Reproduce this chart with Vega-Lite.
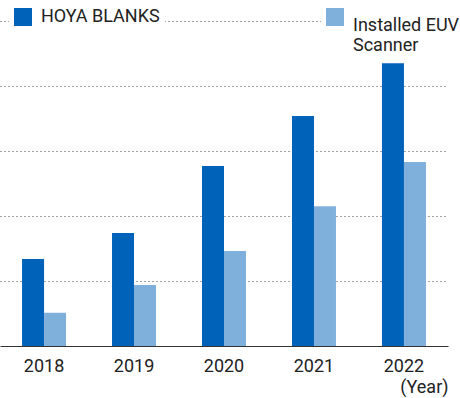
{
  "$schema": "https://vega.github.io/schema/vega-lite/v6.json",
  "width": 448,
  "height": 326,
  "autosize": {"type": "none"},
  "padding": {"left": 0, "top": 20, "right": 12, "bottom": 52},
  "config": {"font": "Roboto", "view": {"stroke": null}},
  "data": {"values": [
    {"year": "2018", "series": "HOYA BLANKS", "value": 1.34},
    {"year": "2018", "series": "Installed EUV Scanner", "value": 0.51},
    {"year": "2019", "series": "HOYA BLANKS", "value": 1.74},
    {"year": "2019", "series": "Installed EUV Scanner", "value": 0.94},
    {"year": "2020", "series": "HOYA BLANKS", "value": 2.77},
    {"year": "2020", "series": "Installed EUV Scanner", "value": 1.46},
    {"year": "2021", "series": "HOYA BLANKS", "value": 3.54},
    {"year": "2021", "series": "Installed EUV Scanner", "value": 2.15},
    {"year": "2022", "series": "HOYA BLANKS", "value": 4.35},
    {"year": "2022", "series": "Installed EUV Scanner", "value": 2.83}
  ]},
  "encoding": {
    "x": {
      "field": "year", "type": "nominal",
      "scale": {"paddingInner": 0.511, "paddingOuter": 0.245},
      "axis": {
        "title": "(Year)", "labelAngle": 0, "ticks": false, "domainColor": "#333", "domainWidth": 1,
        "labelFontSize": 18, "labelColor": "#222", "labelPadding": 11,
        "titleAnchor": "end", "titleFontWeight": "normal", "titleFontSize": 18, "titleColor": "#222", "titlePadding": 3
      }
    },
    "xOffset": {"field": "series", "scale": {"domain": ["HOYA BLANKS", "Installed EUV Scanner"]}},
    "y": {
      "field": "value", "type": "quantitative",
      "scale": {"domain": [0, 5.0154], "nice": false},
      "axis": {"title": null, "labels": false, "ticks": false, "domain": false, "values": [1, 2, 3, 4, 5], "gridDash": [1, 3], "gridColor": "#444", "gridWidth": 1}
    }
  },
  "layer": [
    {
      "transform": [{"filter": "datum.series === 'HOYA BLANKS'"}],
      "mark": "bar",
      "encoding": {
        "color": {
          "field": "series", "type": "nominal",
          "scale": {"range": ["#0062B8"]},
          "legend": {"title": null, "orient": "none", "legendX": 9, "legendY": -17, "padding": 5, "fillColor": "white",
            "symbolType": "square", "symbolSize": 324, "symbolStrokeWidth": 0, "labelFontSize": 18, "labelColor": "#222", "labelOffset": 9,
            "labelExpr": "datum.label + '\u2002\u2005'"}
        }
      }
    },
    {
      "transform": [{"filter": "datum.series === 'Installed EUV Scanner'"}],
      "mark": "bar",
      "encoding": {
        "color": {
          "field": "series", "type": "nominal",
          "scale": {"range": ["#7FB0DC"]},
          "legend": {"title": null, "orient": "none", "legendX": 321, "legendY": -17, "padding": 5, "fillColor": "white",
            "symbolType": "square", "symbolSize": 324, "symbolStrokeWidth": 0, "labelFontSize": 18, "labelColor": "#222", "labelOffset": 9,
            "labelLimit": 200, "labelBaseline": "top",
            "labelExpr": "['Installed EUV', 'Scanner']"}
        }
      }
    }
  ],
  "resolve": {"scale": {"color": "independent"}, "legend": {"color": "independent"}}
}
